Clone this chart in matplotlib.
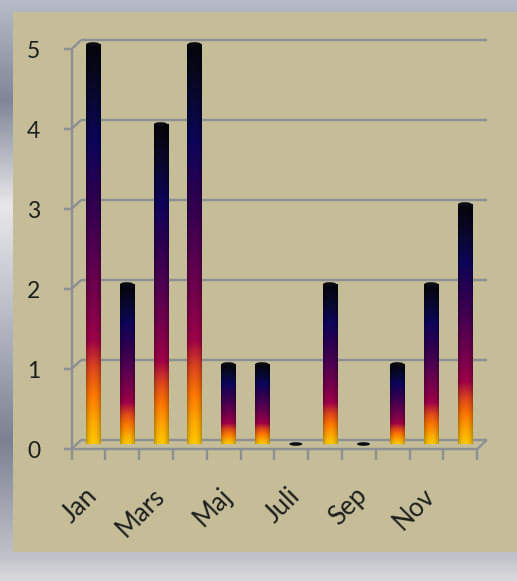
import numpy as np
import matplotlib
matplotlib.use('Agg')
import matplotlib.pyplot as plt
import matplotlib.transforms as mtransforms
from matplotlib.patches import Rectangle, Ellipse
from matplotlib.lines import Line2D

# ---- data ----
months = ['Jan', 'Feb', 'Mars', 'April', 'Maj', 'Juni', 'Juli', 'Aug', 'Sep', 'Okt', 'Nov', 'Dec']
values = [5, 2, 4, 5, 1, 1, 0, 2, 0, 1, 2, 3]
ytick_values = [0, 1, 2, 3, 4, 5]
shown_every = 2

# ---- styling ----
W, H = 517, 581
plt.rcParams['font.family'] = ['Lato', 'DejaVu Sans']
tan = '#C4BD98'
gridc = '#8E8F94'
textc = '#1E1E1E'

fig = plt.figure(figsize=(W / 100, H / 100), dpi=100)

# background metallic gradient
bg = fig.add_axes([0, 0, 1, 1])
bg.axis('off')
stops_y = [0, 100, 205, 300, 440, 552, 581]
stops_c = [(184, 188, 200), (128, 133, 152), (232, 232, 234), (192, 194, 204),
           (124, 128, 146), (190, 191, 199), (218, 218, 222)]
yy = np.arange(H)
arr = np.stack([np.interp(yy, stops_y, [c[k] for c in stops_c]) for k in range(3)], axis=-1) / 255.0
bg.imshow(arr[:, None, :], aspect='auto', extent=(0, 1, 0, 1), interpolation='bilinear')
bg.add_patch(Rectangle((13 / W, (H - 552) / H), (W - 13) / W, 540 / H,
                       transform=bg.transAxes, facecolor=tan, edgecolor='none'))
bg.set_xlim(0, 1)
bg.set_ylim(0, 1)

# main axes
ax = fig.add_axes([76.1 / W, (H - 444) / H, 405.7 / W, 400 / H])
ax.axis('off')

x = np.arange(len(months))
bw = 0.42
bars = ax.bar(x, values, width=bw, color='none', edgecolor='none', zorder=3)

# bar gradient
gstops = [0.00, 0.05, 0.12, 0.19, 0.26, 0.35, 0.50, 0.62, 0.76, 0.88, 1.00]
gcols = [(255, 200, 0), (255, 172, 0), (255, 122, 0), (222, 70, 30), (160, 0, 72),
         (125, 0, 76), (78, 0, 82), (45, 0, 82), (12, 5, 90), (8, 8, 45), (5, 5, 10)]
t = np.linspace(0, 1, 256)
col = np.stack([np.interp(t, gstops, [c[k] for c in gcols]) for k in range(3)], axis=-1) / 255.0
u = np.linspace(0, 1, 40)
shade = 0.62 + 0.38 * np.sqrt(np.sin(np.pi * np.clip(u * 0.96 + 0.02, 0, 1)))
grad = col[:, None, :] * shade[None, :, None]

for b, v in zip(bars, values):
    x0 = b.get_x()
    x1 = x0 + b.get_width()
    if v > 0:
        im = ax.imshow(grad, extent=(x0, x1, 0, v), origin='lower', aspect='auto',
                       interpolation='bilinear', zorder=3)
        im.set_clip_path(b)
    ax.add_patch(Ellipse((x0 + b.get_width() / 2, v), b.get_width() * 0.92, 0.045,
                         facecolor='#0b0b14', edgecolor='none', zorder=4, clip_on=False))

ax.set_xlim(-0.5, len(months) - 0.5)
ax.set_ylim(0, 5)

# 3-D style frame
off = {'front': np.array([-4.5, -5.0]), 'back': np.array([5.0, 4.0])}


def P(xv, v, depth):
    return ax.transData.transform((xv, v)) + off[depth]


ident = mtransforms.IdentityTransform()


def seg(p, q, **kw):
    ax.add_line(Line2D([p[0], q[0]], [p[1], q[1]], transform=ident, color=gridc,
                       lw=1.7, clip_on=False, solid_capstyle='butt', zorder=1, **kw))


xl, xr = -0.5, len(months) - 0.5
for v in ytick_values:
    seg(P(xl, v, 'back'), P(xr, v, 'back'))
    seg(P(xl, v, 'front'), P(xl, v, 'back'))
    fp = P(xl, v, 'front')
    seg(fp + np.array([-8, 0]), fp)
    ax.text(fp[0] - 38, fp[1] - 2.5, str(v), transform=ident, ha='center', va='center',
            fontsize=16.5, color=textc)
seg(P(xl, 0, 'front'), P(xl, 5, 'front'))
seg(P(xl, 0, 'front'), P(xr, 0, 'front'))
seg(P(xr, 0, 'front'), P(xr, 0, 'back'))
for k in range(len(months) + 1):
    p = P(k - 0.5, 0, 'front')
    seg(p, p + np.array([0, -11]))

for i, m in enumerate(months):
    if i % shown_every == 0:
        p = ax.transData.transform((i, 0))
        ax.text(p[0] - 9, p[1] - 39, m, transform=ident, rotation=45,
                rotation_mode='anchor', ha='right', va='top', fontsize=18.5, color=textc)

fig.savefig('out.png', dpi=100)
